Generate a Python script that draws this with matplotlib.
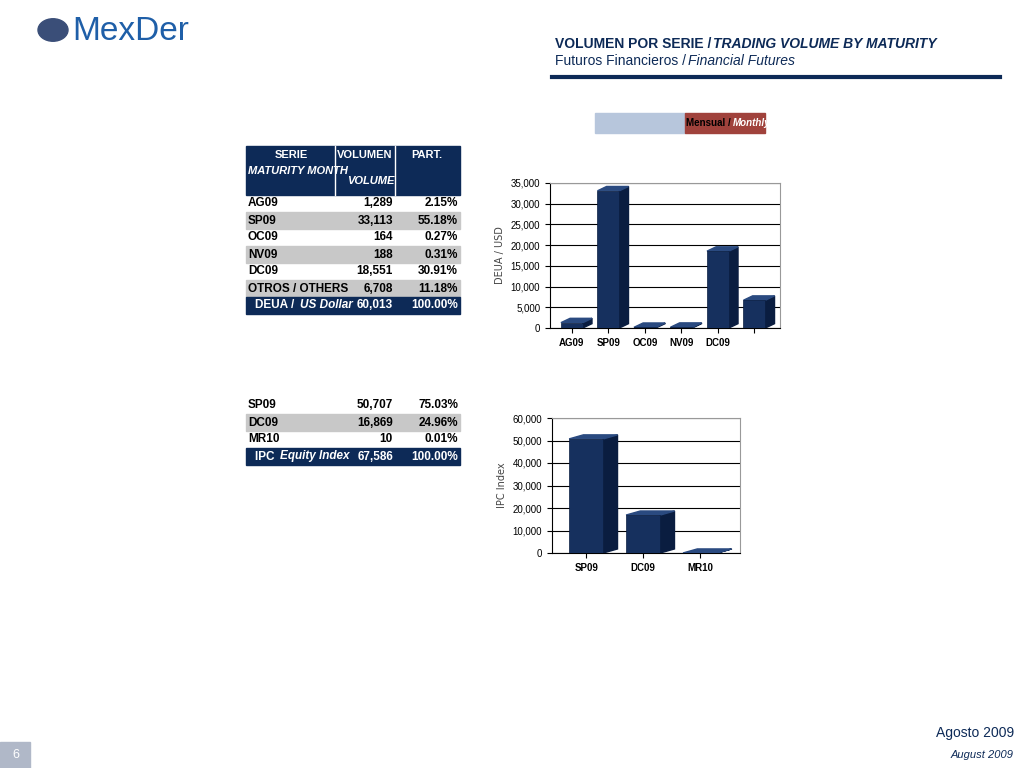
import matplotlib.pyplot as plt
from matplotlib.patches import Rectangle, Polygon

plt.rcParams["font.family"] = ["Liberation Sans Narrow", "Liberation Sans", "DejaVu Sans"]

W, H = 1024, 768
NAVY = "#0d2a57"
BAR = "#16305e"
GREY = "#c8c8c8"

usd_series = ["AG09", "SP09", "OC09", "NV09", "DC09", "OTROS / OTHERS"]
usd_ticks = ["AG09", "SP09", "OC09", "NV09", "DC09", ""]
usd_volume = [1289, 33113, 164, 188, 18551, 6708]
usd_part = ["2.15%", "55.18%", "0.27%", "0.31%", "30.91%", "11.18%"]
usd_total = ("DEUA / ", "US Dollar", "60,013", "100.00%")

ipc_series = ["SP09", "DC09", "MR10"]
ipc_volume = [50707, 16869, 10]
ipc_part = ["75.03%", "24.96%", "0.01%"]
ipc_total = ("IPC ", "Equity Index", "67,586", "100.00%")


def fx(x):
    return x / W


def fy(y):
    return 1 - y / H


def text(x, y, s, **kw):
    return fig.text(fx(x), fy(y), s, **kw)


def run(x, y, parts, **kw):
    # parts: list of (string, style, colour) drawn one after another
    for s, style, col in parts:
        t = text(x, y, s, style=style, color=col, va="center", **kw)
        bb = t.get_window_extent(renderer=fig.canvas.get_renderer())
        x = bb.x1 + 2


def rect(x, y, w, h, color):
    fig.patches.append(Rectangle((fx(x), fy(y + h)), w / W, h / H,
                                 transform=fig.transFigure, color=color, zorder=0))


def table(x0, y0, names, vols, parts, total, header):
    cols = [x0, x0 + 89, x0 + 149, x0 + 214]
    rh = 17
    fs = 8.5
    if header:
        hs = 8
        rect(cols[0], y0, cols[3] - cols[0], 49, NAVY)
        for c in cols[1:3]:
            fig.lines.append(plt.Line2D([fx(c), fx(c)], [fy(y0), fy(y0 + 49)],
                                        transform=fig.transFigure, color="white", lw=1))
        text(291, y0 + 9, "SERIE", color="white", weight="bold", fontsize=hs, ha="center", va="center")
        text(248, y0 + 25, "MATURITY MONTH", color="white", weight="bold", style="italic", fontsize=hs, va="center")
        text(365, y0 + 9, "VOLUMEN", color="white", weight="bold", fontsize=hs, ha="center", va="center")
        text(371, y0 + 35, "VOLUME", color="white", weight="bold", style="italic", fontsize=hs, ha="center", va="center")
        text(427, y0 + 9, "PART.", color="white", weight="bold", fontsize=hs, ha="center", va="center")
        y0 += 49
    for i, (n, v, p) in enumerate(zip(names, vols, parts)):
        y = y0 + i * rh
        if i % 2 == 1:
            rect(cols[0], y, cols[3] - cols[0], rh, GREY)
        text(cols[0] + 2, y + rh / 2, n, weight="bold", fontsize=fs, va="center")
        text(cols[2] - 2, y + rh / 2, f"{v:,}", weight="bold", fontsize=fs, va="center", ha="right")
        text(cols[3] - 2, y + rh / 2, p, weight="bold", fontsize=fs, va="center", ha="right")
    y = y0 + len(names) * rh
    rect(cols[0], y, cols[3] - cols[0], rh, NAVY)
    run(cols[0] + 9, y + rh / 2, [(total[0], "normal", "white"), (total[1], "italic", "white")],
        weight="bold", fontsize=fs)
    text(cols[2] - 2, y + rh / 2, total[2], color="white", weight="bold", fontsize=fs, va="center", ha="right")
    text(cols[3] - 2, y + rh / 2, total[3], color="white", weight="bold", fontsize=fs, va="center", ha="right")


def chart(rect_px, labels, values, ymax, step, ylabel):
    x, y, w, h = rect_px
    ax = fig.add_axes([fx(x), fy(y + h), w / W, h / H])
    n = len(values)
    pos = list(range(n))
    dx, dy = 0.25, ymax * 0.03
    for p, v in zip(pos, values):
        l, r = p - 0.3, p + 0.3
        ax.add_patch(Polygon([(r, 0), (r + dx, dy), (r + dx, v + dy), (r, v)],
                             color="#0a1d40", zorder=3))
        ax.add_patch(Polygon([(l, v), (l + dx, v + dy), (r + dx, v + dy), (r, v)],
                             color="#2a4a80", zorder=3))
    ax.bar(pos, values, width=0.6, color=BAR, edgecolor="#0a1d40", lw=0.5, zorder=4)
    ax.set_xlim(-0.6, n - 0.3)
    ax.set_ylim(0, ymax)
    ax.set_yticks(range(0, ymax + 1, step))
    ax.set_yticklabels([f"{t:,}" for t in range(0, ymax + 1, step)], fontsize=7)
    ax.set_xticks(pos)
    ax.set_xticklabels(labels, fontsize=7, weight="bold")
    ax.grid(axis="y", color="black", lw=0.8, zorder=0)
    for s in ["top", "right"]:
        ax.spines[s].set_color("#999999")
    ax.set_ylabel(ylabel, fontsize=7, color="#444444", family="DejaVu Sans")
    return ax


fig = plt.figure(figsize=(10.24, 7.68), dpi=100)
fig.canvas.draw()

text(72, 32, "MexDer", fontsize=24, color="#1f5fa8", va="center", family="Liberation Sans")
fig.patches.append(plt.Circle((fx(53), fy(30)), 15 / W, transform=fig.transFigure,
                              color="#3a4e78", zorder=1))
run(555, 44, [("VOLUMEN POR SERIE /", "normal", NAVY), ("TRADING VOLUME BY MATURITY", "italic", NAVY)],
    fontsize=10, weight="bold")
run(555, 61, [("Futuros Financieros /", "normal", NAVY), ("Financial Futures", "italic", NAVY)],
    fontsize=10)
fig.lines.append(plt.Line2D([fx(552), fx(1000)], [fy(77), fy(77)], transform=fig.transFigure,
                            color=NAVY, lw=3))
rect(595, 113, 90, 20, "#b7c6dc")
rect(685, 113, 80, 20, "#a0423c")
run(686, 123, [("Mensual /", "normal", "black"), ("Monthly", "italic", "white")],
    fontsize=7, weight="bold")

table(246, 146, usd_series, usd_volume, usd_part, usd_total, True)
table(246, 397, ipc_series, ipc_volume, ipc_part, ipc_total, False)

chart((550, 183, 230, 145), usd_ticks, usd_volume, 35000, 5000, "DEUA / USD")
chart((552, 418, 188, 135), ipc_series, ipc_volume, 60000, 10000, "IPC Index")

text(1014, 733, "Agosto 2009", fontsize=10, color=NAVY, ha="right", va="center")
text(1014, 755, "August 2009", fontsize=8, style="italic", color=NAVY, ha="right", va="center")
rect(0, 742, 30, 26, "#b0b8c8")
text(12, 755, "6", fontsize=9, color="white", va="center")

fig.savefig("out.png", dpi=100)
